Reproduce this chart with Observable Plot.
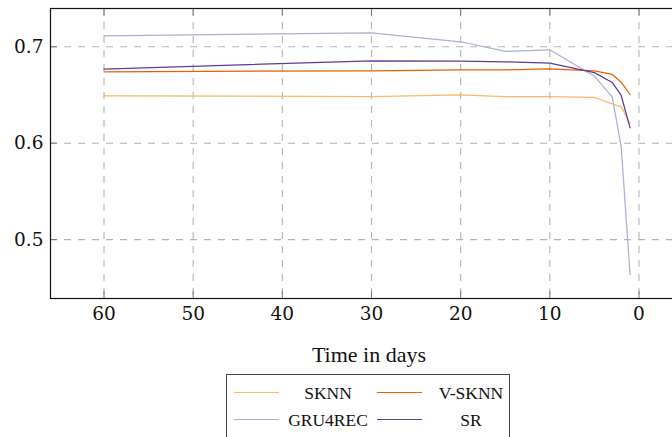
<!DOCTYPE html>
<html>
<head>
<meta charset="utf-8">
<script src="https://cdn.jsdelivr.net/npm/d3@7"></script>
<script src="https://cdn.jsdelivr.net/npm/@observablehq/plot@0.6"></script>
<style>
  html, body { margin: 0; padding: 0; background: #fff; overflow: hidden; }
  #wrap { position: relative; width: 672px; height: 437px; overflow: hidden; }
  #chart { position: absolute; left: 0; top: 0; width: 700px; }
  #chart svg { max-width: none !important; }
  #xlabel {
    position: absolute; left: 226px; width: 286px; top: 342px;
    text-align: center; font-family: "Liberation Serif", serif; font-size: 22px; color: #111;
  }
  #legend {
    position: absolute; left: 226px; top: 374px; width: 284px; height: 80px;
    border: 1.3px solid #444; box-sizing: border-box;
  }
  .item { position: absolute; height: 20px; }
  .swatch { position: absolute; width: 45px; height: 0; border-top: 1.3px solid; }
  .name {
    position: absolute; text-align: center; width: 90px;
    font-family: "Liberation Serif", serif; font-size: 17.5px; color: #111; line-height: 20px;
  }
</style>
</head>
<body>
<div id="wrap">
  <div id="chart"></div>
  <div id="xlabel">Time in days</div>
  <div id="legend"></div>
</div>
<script>
// Days before the end of the observation window
const days = [60, 30, 20, 15, 10, 5, 3, 2, 1];

const series = ["SKNN", "V-SKNN", "GRU4REC", "SR"];
const colors = ["#fdb863", "#e66101", "#b2abd2", "#5e3c99"];

const sknn    = [0.6491, 0.6484, 0.6502, 0.6484, 0.6484, 0.6474, 0.6408, 0.6377, 0.6205];
const vsknn   = [0.6740, 0.6751, 0.6761, 0.6761, 0.6772, 0.6750, 0.6713, 0.6633, 0.6505];
const gru4rec = [0.7114, 0.7145, 0.7052, 0.6952, 0.6969, 0.6695, 0.6478, 0.5965, 0.4637];
const sr      = [0.6768, 0.6855, 0.6851, 0.6844, 0.6830, 0.6732, 0.6630, 0.6495, 0.6159];

const xTicks = [60, 50, 40, 30, 20, 10, 0];
const yTicks = [0.5, 0.6, 0.7];

const values = [sknn, vsknn, gru4rec, sr];
const rows = series.flatMap((s, i) => days.map((d, j) => ({series: s, day: d, value: values[i][j]})));

const tickFont = {fontFamily: "DejaVu Serif, serif", fontSize: 18.5, fill: "#111"};

const chart = Plot.plot({
  width: 700,
  height: 330,
  marginLeft: 50,
  marginRight: 8,
  marginTop: 8,
  marginBottom: 32,
  x: {domain: [66, -6], ticks: xTicks},
  y: {domain: [0.4389, 0.7397], ticks: yTicks},
  color: {domain: series, range: colors},
  style: {background: "white", overflow: "visible", maxWidth: "none"},
  marks: [
    Plot.gridX(xTicks, {stroke: "#b4b4b4", strokeOpacity: 1, strokeWidth: 1.1, strokeDasharray: "7,7"}),
    Plot.gridY(yTicks, {stroke: "#b4b4b4", strokeOpacity: 1, strokeWidth: 1.1, strokeDasharray: "7,7"}),
    // inward ticks on the frame
    Plot.axisX(xTicks, {anchor: "bottom", tickSize: 7, dy: -7, text: null, label: null, stroke: "#777"}),
    Plot.axisX(xTicks, {anchor: "top", tickSize: 7, dy: 7, text: null, label: null, stroke: "#777"}),
    Plot.axisY(yTicks, {anchor: "left", tickSize: 7, dx: 7, text: null, label: null, stroke: "#777"}),
    // tick labels
    Plot.axisX(xTicks, {anchor: "bottom", tickSize: 0, tickPadding: 8, label: null, tickFormat: d => String(d), ...tickFont}),
    Plot.axisY(yTicks, {anchor: "left", tickSize: 0, tickPadding: 7, label: null, tickFormat: d => d.toFixed(1), ...tickFont}),
    Plot.line(rows, {x: "day", y: "value", z: "series", stroke: "series", strokeWidth: 1.25}),
    Plot.frame({stroke: "#111", strokeWidth: 1.2})
  ]
});
document.getElementById("chart").appendChild(chart);

// Legend: two columns, two rows
const legend = document.getElementById("legend");
series.forEach((s, i) => {
  const col = i % 2, row = Math.floor(i / 2);
  const item = document.createElement("div");
  item.className = "item";
  item.style.left = (7 + col * 143) + "px";
  item.style.top = (8 + row * 27) + "px";
  const sw = document.createElement("div");
  sw.className = "swatch";
  sw.style.borderTopColor = colors[i];
  sw.style.left = "0px";
  sw.style.top = "9px";
  const nm = document.createElement("div");
  nm.className = "name";
  nm.textContent = s;
  nm.style.left = (94 - 45) + "px";
  nm.style.top = "0px";
  item.appendChild(sw);
  item.appendChild(nm);
  legend.appendChild(item);
});
</script>
</body>
</html>
